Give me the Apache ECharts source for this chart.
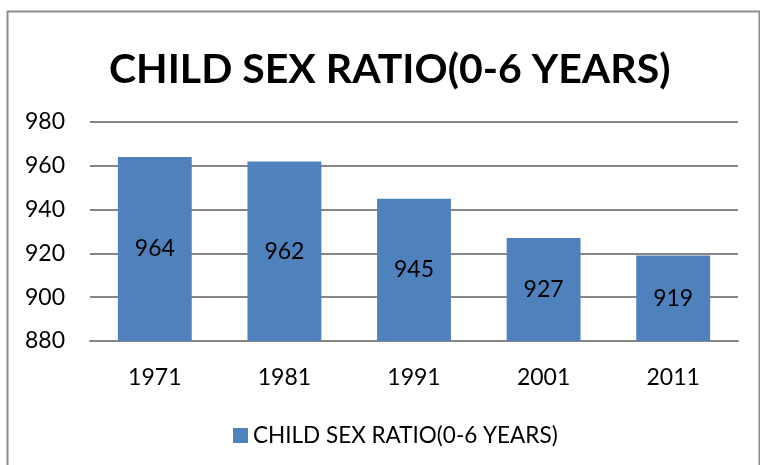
<!DOCTYPE html>
<html><head><meta charset="utf-8">
<script src="https://cdn.jsdelivr.net/npm/echarts@6/dist/echarts.min.js"></script>
<style>html,body{margin:0;padding:0;background:#fff}#c{width:760px;height:465px}</style>
</head><body><div id="c"></div>
<script>
const categories = ['1971','1981','1991','2001','2011'];
const values = [964, 962, 945, 927, 919];
const seriesName = 'CHILD SEX RATIO(0-6 YEARS)';
const titleText = 'CHILD SEX RATIO(0-6 YEARS)';

const chart = echarts.init(document.getElementById('c'));
const font = 'Lato, "Open Sans", sans-serif';
chart.setOption({
  animation: false,
  backgroundColor: '#fff',
  graphic: [{
    type: 'rect', left: 5, top: 9, z: -1,
    shape: { width: 752, height: 470 },
    style: { fill: 'none', stroke: '#8c8c8c', lineWidth: 2 }
  }],
  title: {
    text: titleText, left: 104, top: 44,
    textStyle: { fontFamily: font, fontWeight: 'bold', fontSize: 41, color: '#000' }
  },
  legend: {
    top: 419, left: 228, itemWidth: 15, itemHeight: 15, itemGap: 7,
    icon: 'rect',
    textStyle: { fontFamily: font, fontSize: 22.5, color: '#000' }
  },
  grid: { left: 90, right: 22, top: 122, bottom: 124 },
  xAxis: {
    type: 'category', data: categories,
    axisLine: { lineStyle: { color: '#868686', width: 2 } },
    axisTick: { show: false },
    axisLabel: { fontFamily: font, fontSize: 23, color: '#000', margin: 25 }
  },
  yAxis: {
    type: 'value', min: 880, max: 980, interval: 20,
    axisLine: { show: false }, axisTick: { show: false },
    splitLine: { lineStyle: { color: '#868686', width: 2 } },
    axisLabel: { fontFamily: font, fontSize: 23, color: '#000', margin: 25 }
  },
  series: [{
    name: seriesName, type: 'bar', data: values, barWidth: '57%',
    itemStyle: { color: '#4F81BD' },
    label: { show: true, position: 'inside', fontFamily: font, fontSize: 23, color: '#000' }
  }]
});
</script></body></html>
